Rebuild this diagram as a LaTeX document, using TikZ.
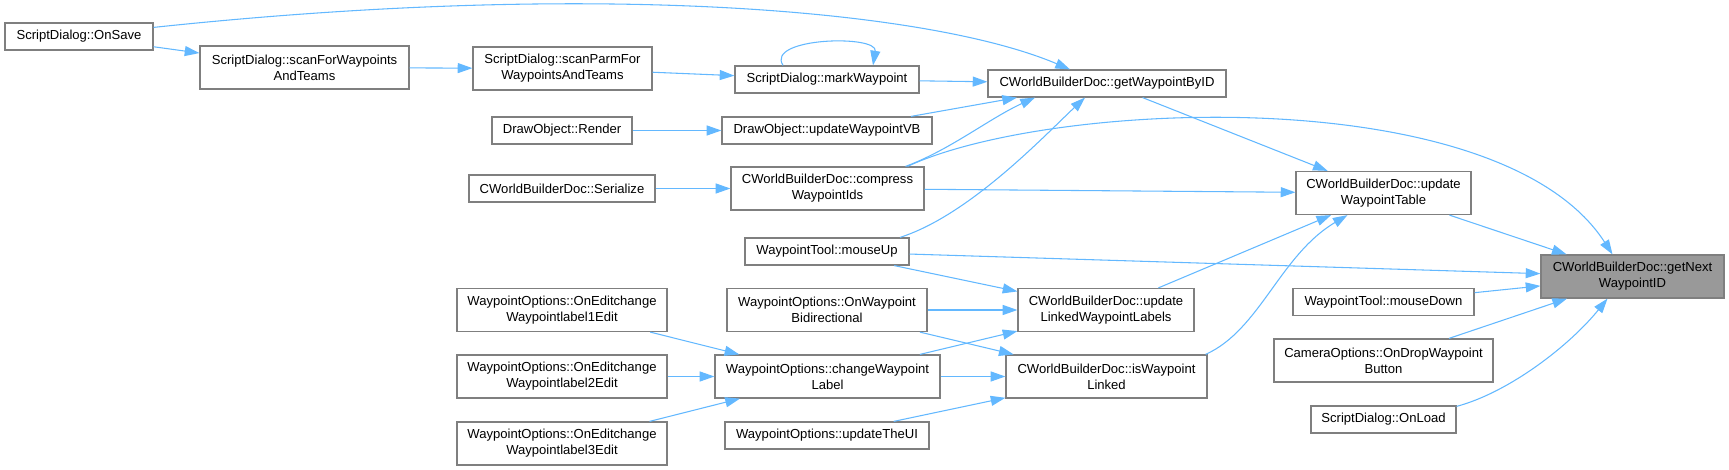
\documentclass[tikz,border=0pt]{standalone}
\usepackage{fontspec}
\setmainfont{Liberation Sans}
\usetikzlibrary{arrows.meta}
\definecolor{edgeblue}{HTML}{63B8FF}
\definecolor{boxline}{HTML}{7F7F7F}
\definecolor{mainfill}{HTML}{999999}
\begin{document}
\begin{tikzpicture}[x=0.75pt,y=-0.75pt,
  box/.style={draw=boxline, line width=0.9pt, fill=white, inner sep=0pt, align=center,
              font=\fontsize{9.8}{12}\selectfont},
  sz/.style 2 args={minimum width=#1*0.75pt, minimum height=#2*0.75pt},
  conn/.style={draw=edgeblue, line width=0.8pt, -{Triangle[length=11pt,width=7.5pt]}}]
\useasboundingbox (0,0) rectangle (1729,470);

% nodes
\node[box,sz={148}{27}] (OnSave) at (79,36.5) {ScriptDialog::OnSave};
\node[box,sz={209}{43}] (scanFor) at (304.5,67.5) {ScriptDialog::scanForWaypoints\\AndTeams};
\node[box,sz={179}{43}] (scanParm) at (562.5,68.5) {ScriptDialog::scanParmFor\\WaypointsAndTeams};
\node[box,sz={184}{27}] (markWP) at (827,79.5) {ScriptDialog::markWaypoint};
\node[box,sz={238}{27}] (getByID) at (1107,83.5) {CWorldBuilderDoc::getWaypointByID};
\node[box,sz={140}{27}] (Render) at (562,130.5) {DrawObject::Render};
\node[box,sz={210}{27}] (updVB) at (827,130.5) {DrawObject::updateWaypointVB};
\node[box,sz={186}{27}] (Serialize) at (562,188.5) {CWorldBuilderDoc::Serialize};
\node[box,sz={193}{43}] (compress) at (827.5,188.5) {CWorldBuilderDoc::compress\\WaypointIds};
\node[box,sz={175}{43}] (updTable) at (1383.5,193) {CWorldBuilderDoc::update\\WaypointTable};
\node[box,sz={164}{27}] (mouseUp) at (827,251.5) {WaypointTool::mouseUp};
\node[box,sz={183}{43},fill=mainfill] (getNext) at (1632.5,276.5) {CWorldBuilderDoc::getNext\\WaypointID};
\node[box,sz={181}{27}] (mouseDown) at (1383.5,302) {WaypointTool::mouseDown};
\node[box,sz={210}{43}] (edit1) at (562,310) {WaypointOptions::OnEditchange\\Waypointlabel1Edit};
\node[box,sz={200}{43}] (bidir) at (827,310) {WaypointOptions::OnWaypoint\\Bidirectional};
\node[box,sz={176}{43}] (updLinked) at (1106,310) {CWorldBuilderDoc::update\\LinkedWaypointLabels};
\node[box,sz={219}{43}] (camera) at (1383.5,360.5) {CameraOptions::OnDropWaypoint\\Button};
\node[box,sz={210}{43}] (edit2) at (562,376.5) {WaypointOptions::OnEditchange\\Waypointlabel2Edit};
\node[box,sz={225}{43}] (change) at (827.5,376.5) {WaypointOptions::changeWaypoint\\Label};
\node[box,sz={201}{43}] (isLinked) at (1106.5,376.5) {CWorldBuilderDoc::isWaypoint\\Linked};
\node[box,sz={145}{27}] (OnLoad) at (1383.5,419.5) {ScriptDialog::OnLoad};
\node[box,sz={210}{43}] (edit3) at (562,443.5) {WaypointOptions::OnEditchange\\Waypointlabel3Edit};
\node[box,sz={204}{27}] (updUI) at (827,435.5) {WaypointOptions::updateTheUI};

% connectors
\draw[conn] (OnSave) -- (scanFor);
\draw[conn] ([shift={(0,5)}]OnSave.north east) .. controls (600,-20) and (930,10) .. ([shift={(-37,0)}]getByID.north);
\draw[conn] (scanFor) -- (scanParm);
\draw[conn] (scanParm) -- (markWP);
\draw[conn] ([shift={(-44,0)}]markWP.north) .. controls +(-18,-28) and +(5,-31) .. ([shift={(46,0)}]markWP.north);
\draw[conn] (markWP) -- (getByID);
\draw[conn] (Render) -- (updVB);
\draw[conn] ([shift={(84,0)}]updVB.north) -- ([shift={(-90,0)}]getByID.south);
\draw[conn] (Serialize) -- (compress);
\draw[conn] ([shift={(78,0)}]compress.north) .. controls (950,150) and (990,118) .. ([shift={(-72,0)}]getByID.south);
\draw[conn] (compress) -- (updTable);
\draw[conn] ([shift={(80,0)}]compress.north) .. controls (1050,100) and (1500,80) .. ([shift={(-20,0)}]getNext.north);
\draw[conn] ([shift={(73,0)}]mouseUp.north) .. controls (970,215) and (1045,135) .. ([shift={(-22,0)}]getByID.south);
\draw[conn] (mouseUp) -- (getNext);
\draw[conn] (mouseUp) -- (updLinked);
\draw[conn] (getByID) -- (updTable);
\draw[conn] (updTable) -- (getNext);
\draw[conn] (updLinked) -- (updTable);
\draw[conn] ([shift={(-2,0)}]isLinked.north east) .. controls (1260,330) and (1280,255) .. ([shift={(-36,0)}]updTable.south);
\draw[conn] (mouseDown) -- (getNext);
\draw[conn] (camera) -- (getNext);
\draw[conn] ([shift={(0,1)}]OnLoad.north east) .. controls (1510,392) and (1570,345) .. ([shift={(-25,0)}]getNext.south);
\draw[conn] (bidir) -- (updLinked);
\draw[conn] (bidir) -- (isLinked);
\draw[conn] (change) -- (updLinked);
\draw[conn] (change) -- (isLinked);
\draw[conn] (updUI) -- (isLinked);
\draw[conn] (edit1) -- (change);
\draw[conn] (edit2) -- (change);
\draw[conn] (edit3) -- (change);
\end{tikzpicture}
\end{document}
